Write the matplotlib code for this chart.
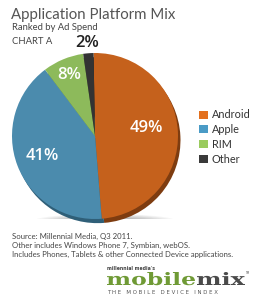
import matplotlib
matplotlib.use("Agg")
import matplotlib.pyplot as plt
from matplotlib.patches import Patch, Ellipse, PathPatch
from matplotlib.textpath import TextPath
from matplotlib.font_manager import FontProperties
from matplotlib.transforms import Affine2D
import numpy as np

# data
platforms = ["Android", "Apple", "RIM", "Other"]
shares = [49, 41, 8, 2]

pie_colors = ["#C5611C", "#4B8BAD", "#8DBA5B", "#333333"]
rim_colors = ["#7E3C10", "#2F5F78", "#5E8239", "#1C1C1C"]
legend_colors = ["#E3701E", "#4A9BC6", "#9ACB5E", "#3A3A3A"]

W, H = 262, 307


def fx(x):
    return x / W


def fy(y):
    return 1 - y / H


fig = plt.figure(figsize=(W / 100, H / 100), dpi=100)
fig.patch.set_facecolor("white")

# pie axes, centre ~ (95,136) px, radius ~83 px
cx, cy, r = 95, 136, 83
ax = fig.add_axes([fx(cx - r), fy(cy + r), 2 * r / W, 2 * r / H])

# soft shadow under the pie
for k in range(8):
    ax.add_patch(Ellipse((0.12, -1.02), 1.7 - k * 0.12, 0.16 - k * 0.012,
                         color="#000000", alpha=0.035, lw=0, zorder=0))

# darker copy behind for the 3d rim
ax.pie(shares, colors=rim_colors, startangle=91, counterclock=False,
       center=(0.03, -0.05), wedgeprops=dict(lw=0))
wedges, _ = ax.pie(shares, colors=pie_colors, startangle=91, counterclock=False,
                   wedgeprops=dict(lw=0))

label_r = [0.62, 0.68, 0.8, 1.12]
for w, v, lr in zip(wedges, shares, label_r):
    ang = np.deg2rad((w.theta1 + w.theta2) / 2)
    if v == 49:
        ang = np.deg2rad(9)
    col = "white" if lr < 1 else "#222222"
    ax.text(lr * np.cos(ang), lr * np.sin(ang), "%d%%" % v, ha="center", va="center",
            color=col, fontsize=12, fontweight="semibold", family="Open Sans")

ax.set_xlim(-1, 1)
ax.set_ylim(-1, 1)
ax.set_aspect("auto")
ax.axis("off")

# titles
fig.text(fx(11), fy(15), "Application Platform Mix", fontsize=10.8, color="#555555",
         family="Lato", va="center", ha="left")
fig.text(fx(12), fy(28), "Ranked by Ad Spend", fontsize=6.8, color="#444444",
         family="Lato", va="center")
fig.text(fx(12), fy(41), "CHART A", fontsize=6.8, color="#444444",
         family="Lato", va="center")

# legend
handles = [Patch(facecolor=c, edgecolor="none") for c in legend_colors]
fig.legend(handles, platforms, loc="upper left", bbox_to_anchor=(fx(194), fy(104)),
           frameon=False, borderpad=0, handlelength=0.75, handleheight=0.75,
           handletextpad=0.4, labelspacing=0.35,
           prop=dict(family="Lato", size=7.8), labelcolor="#333333")

# footer
notes = ["Source: Millennial Media, Q3 2011.",
         "Other includes Windows Phone 7, Symbian, webOS.",
         "Includes Phones, Tablets & other Connected Device applications."]
for i, t in enumerate(notes):
    fig.text(fx(12), fy(236 + 9 * i), t, fontsize=5.6, color="#444444",
             family="Lato", va="center")

# logo, drawn in pixel coords
lax = fig.add_axes([0, 0, 1, 1])
lax.set_xlim(0, W)
lax.set_ylim(H, 0)
lax.axis("off")
fp = FontProperties(family="DejaVu Serif", weight="bold")


def logo_word(txt, x0, x1, base, cap, color):
    p = TextPath((0, 0), txt, size=20, prop=fp)
    ext = p.get_extents()
    sx = (x1 - x0) / ext.width
    sy = cap / TextPath((0, 0), "b", size=20, prop=fp).get_extents().ymax
    tr = Affine2D().translate(-ext.xmin, 0).scale(sx, -sy).translate(x0, base)
    lax.add_patch(PathPatch(tr.transform_path(p), facecolor=color, lw=0))


logo_word("mobile", 107, 195, 285, 13, "#6F9A35")
logo_word("mix", 197, 245, 285, 13, "#4A4A4A")
lax.text(246, 273, "TM", fontsize=2, color="#555555", va="center")
lax.text(107, 269, "millennial media's", fontsize=3.3, color="#444444",
         family="DejaVu Sans", va="center", fontweight="bold")
lax.text(107, 293, "T H E   M O B I L E   D E V I C E   I N D E X",
         fontsize=3.9, color="#555555", family="DejaVu Sans", va="center")

fig.savefig("out.png", dpi=100)
